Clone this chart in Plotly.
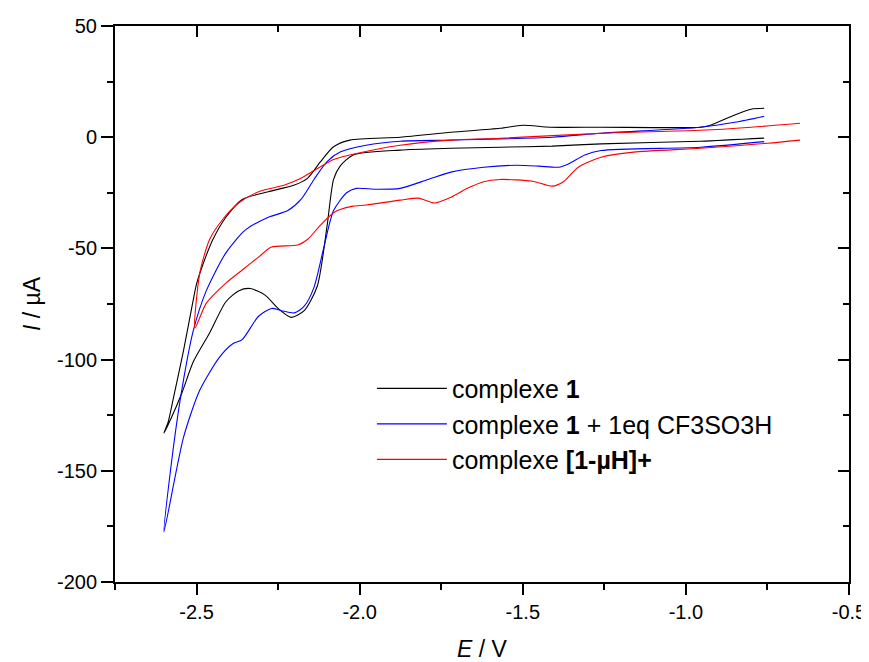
import plotly.graph_objects as go

# ------------------------------------------------------------------
#    Cyclic voltammograms (E in V, I in µA)
# ------------------------------------------------------------------
E_c1 = [-0.76, -0.955, -1.26, -1.41, -1.57, -1.72, -1.876, -2.02, -2.06, -2.08,
        -2.10, -2.13, -2.17, -2.21, -2.25, -2.29, -2.336, -2.37, -2.41, -2.46,
        -2.51, -2.545, -2.58, -2.60,
        -2.587, -2.572, -2.54, -2.51, -2.50, -2.48, -2.45, -2.41, -2.36, -2.28,
        -2.20, -2.16, -2.12, -2.08, -2.03, -1.876, -1.72, -1.57, -1.50, -1.416,
        -1.26, -0.955, -0.925, -0.85, -0.80, -0.76]
I_c1 = [-0.4, -1.8, -3, -4, -4.5, -5, -5.8, -8, -13, -19,
        -40, -67, -78, -81, -77, -71, -68, -69, -74, -88,
        -101, -115, -127, -133,
        -128, -118, -96, -73, -66, -57, -46, -36, -28, -24.5,
        -21.5, -18.5, -11, -4.3, -1.3, 0, 2.2, 4, 5.4, 4.5,
        4.5, 4.5, 5.4, 10, 12.6, 13]

E_c1_acid = [-0.76, -0.955, -1.26, -1.31, -1.36, -1.39, -1.45, -1.52, -1.62, -1.72,
             -1.79, -1.876, -1.95, -2.01, -2.04, -2.08, -2.11, -2.14, -2.17, -2.20,
             -2.24, -2.27, -2.31, -2.36, -2.39, -2.43, -2.49, -2.54, -2.60,
             -2.58, -2.55, -2.51, -2.47, -2.41, -2.35, -2.28, -2.22, -2.18, -2.14,
             -2.10, -2.06, -1.98, -1.876, -1.72, -1.41, -1.26, -0.955, -0.85, -0.76]
I_c1_acid = [-2, -4.5, -6, -8, -12, -13.5, -13, -12.6, -13.5, -15.7,
             -19, -23, -23.4, -23, -25, -33, -49.7, -67.5, -76, -79,
             -78, -77, -80.5, -91, -93, -99, -113.7, -135, -177.5,
             -150, -118, -87, -69, -52, -41.7, -36, -33, -28, -19,
             -11, -6.7, -3.6, -1.8, -1.3, 0, 1.8, 4.5, 6.7, 9.4]

E_muH = [-0.65, -0.75, -0.955, -1.16, -1.26, -1.33, -1.375, -1.41, -1.47, -1.57,
         -1.62, -1.67, -1.72, -1.77, -1.82, -1.876, -1.98, -2.02, -2.06, -2.08,
         -2.12, -2.16, -2.19, -2.27, -2.31, -2.36, -2.41, -2.47, -2.505,
         -2.49, -2.46, -2.42, -2.37, -2.31, -2.23, -2.18, -2.14, -2.08, -2.03,
         -1.876, -1.72, -1.57, -1.26, -0.955, -0.80, -0.65]
I_muH = [-1.3, -2.7, -5, -6.7, -9, -13.5, -20, -22, -19.8, -19,
         -20, -23, -27, -29.6, -27.4, -28.3, -30.5, -31, -32.5, -34,
         -39.5, -46, -48.5, -49.4, -53.9, -59.7, -65.6, -74.6, -85.8,
         -61, -46, -37, -29.5, -24.5, -21.5, -18.5, -15, -10, -8,
         -3.6, -1.3, -0.5, 1.8, 3.1, 4.5, 6.3]

names = ['complexe <b>1</b>',
         'complexe <b>1</b> + 1eq CF3SO3H',
         'complexe <b>[1-µH]+</b>']
colors = ['#000000', '#0000FF', '#FF0000']

x_ticks = [-2.5, -2.0, -1.5, -1.0, -0.5]
x_ticktext = ['-2.5', '-2.0', '-1.5', '-1.0', '-0.5']
y_ticks = [50, 0, -50, -100, -150, -200]
y_ticktext = ['50', '0', '-50', '-100', '-150', '-200']

FONT = 'Arial, Liberation Sans, sans-serif'

fig = go.Figure()
for E, I, nm, col in zip([E_c1, E_c1_acid, E_muH], [I_c1, I_c1_acid, I_muH], names, colors):
    fig.add_trace(go.Scatter(x=E, y=I, mode='lines', name=nm, showlegend=True,
                             line=dict(color=col, width=1.1, shape='spline', smoothing=0.7)))

# empty trace so the mirrored axes (inward ticks on top / right) get drawn
fig.add_trace(go.Scatter(x=[], y=[], xaxis='x2', yaxis='y2', showlegend=False,
                         line=dict(color='rgba(0,0,0,0)')))

axis_common = dict(showline=True, linecolor='black', linewidth=2, showgrid=False,
                   zeroline=False, tickcolor='black', tickwidth=1.5, automargin=False,
                   tickfont=dict(family=FONT, size=20, color='black'))

# the page body adds an 8px offset, so the figure is 8px smaller than the window
fig.update_layout(
    width=861, height=654,
    margin=dict(l=107, r=20, t=18, b=80),
    plot_bgcolor='white', paper_bgcolor='white',
    font=dict(family=FONT, color='black'),
    xaxis=dict(range=[-2.75, -0.5], tickvals=x_ticks, ticktext=x_ticktext,
               ticks='outside', ticklen=11,
               minor=dict(dtick=0.25, tick0=-2.75, ticks='outside', ticklen=6,
                          tickcolor='black', tickwidth=1.5),
               title=dict(text='<i>E</i> / V', font=dict(family=FONT, size=23), standoff=20),
               **axis_common),
    yaxis=dict(range=[-200, 50], tickvals=y_ticks, ticktext=y_ticktext,
               ticks='outside', ticklen=12,
               minor=dict(dtick=25, ticks='outside', ticklen=6,
                          tickcolor='black', tickwidth=1.5),
               title=dict(text='<i>I</i> / µA', font=dict(family=FONT, size=23), standoff=10),
               **axis_common),
    xaxis2=dict(range=[-2.75, -0.5], overlaying='x', side='top', anchor='y2',
                tickvals=x_ticks, ticks='inside', ticklen=11, showticklabels=False,
                minor=dict(dtick=0.25, tick0=-2.75, ticks='inside', ticklen=6,
                           tickcolor='black', tickwidth=1.5),
                **axis_common),
    yaxis2=dict(range=[-200, 50], overlaying='y', side='right', anchor='x2',
                tickvals=y_ticks, ticks='inside', ticklen=11, showticklabels=False,
                minor=dict(dtick=25, ticks='inside', ticklen=6,
                           tickcolor='black', tickwidth=1.5),
                **axis_common),
    legend=dict(x=0.35, y=0.284, xanchor='left', yanchor='middle',
                bgcolor='rgba(0,0,0,0)', itemwidth=70, tracegroupgap=0,
                font=dict(family=FONT, size=25, color='black')),
)

fig.write_html('out.html')
